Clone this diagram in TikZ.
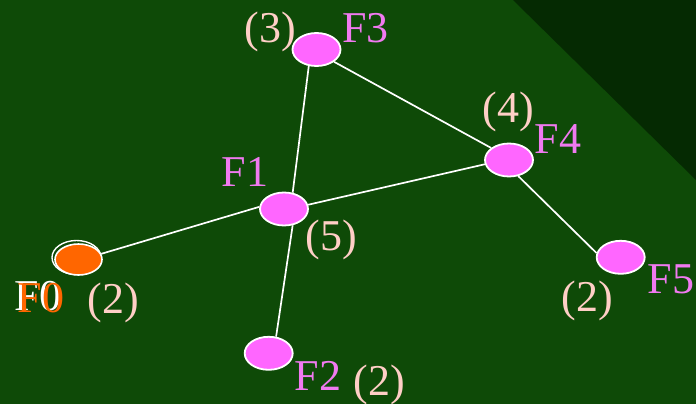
\documentclass[tikz,border=0pt]{standalone}
\usepackage{fontspec}
\setmainfont{Liberation Serif}
\usetikzlibrary{shapes.geometric}
\definecolor{bggreen}{HTML}{0E4A07}
\definecolor{bgdark}{HTML}{052A02}
\definecolor{nodepink}{HTML}{FF66FF}
\definecolor{labpink}{HTML}{F07AF0}
\definecolor{peach}{HTML}{FFCFC6}
\definecolor{orangeF}{HTML}{FF6600}
\tikzset{
  vert/.style={ellipse, draw=white, line width=1.8pt, fill=nodepink, minimum width=48pt, minimum height=33pt, inner sep=0pt},
  lab/.style={inner sep=0pt, text=labpink, font=\fontsize{44}{44}\selectfont},
  num/.style={inner sep=0pt, text=peach, font=\fontsize{44}{44}\selectfont},
  edge/.style={draw=white, line width=1.7pt}
}
\begin{document}
\begin{tikzpicture}[x=1pt,y=-1pt]
\useasboundingbox (0,0) rectangle (696,404);
\fill[bggreen] (0,0) rectangle (696,404);
\fill[bgdark] (513,0) -- (696,0) -- (696,180) -- cycle;

\node[vert] (F3) at (316.5,49.5) {};
\node[vert] (F1) at (284,209) {};
\node[vert] (F4) at (509,160) {};
\node[vert] (F2) at (268.7,353.3) {};
\node[vert] (F5) at (620.7,257.3) {};
\node[ellipse, draw=white, line width=1.4pt, minimum width=49pt, minimum height=34pt, inner sep=0pt] (F0s) at (76.5,257.5) {};
\node[ellipse, draw=white, line width=1.6pt, fill=orangeF, minimum width=47pt, minimum height=31pt, inner sep=0pt] (F0) at (78.5,259.5) {};

\draw[edge] (F3.245) -- (F1.62);
\draw[edge] (F1.298) -- (F2.66);
\draw[edge] (F0.14) -- (F1.175);
\draw[edge] (F1.10) -- (F4.190);
\draw[edge] (F3.325) -- (F4.146);
\draw[edge] (F4.300) -- (F5.170);

\node[lab] (lF3) at (365.5,28) {F3};
\node[num] (n3) at (270,32) {(3)};
\node[lab] (lF1) at (245,171.7) {F1};
\node[num] (n5) at (331,240) {(5)};
\node[lab] (lF4) at (558,139.5) {F4};
\node[num] (n4) at (508,112) {(4)};
\node[lab] (lF5) at (671,279.5) {F5};
\node[num] (n2c) at (587.5,301) {(2)};
\node[lab] (lF2) at (318,376) {F2};
\node[num] (n2b) at (379,385) {(2)};
\node[inner sep=0pt, text=white, font=\fontsize{44}{44}\selectfont] (lF0s) at (38,296) {F0};
\node[inner sep=0pt, text=orangeF, font=\fontsize{44}{44}\selectfont] (lF0) at (41,298) {F0};
\node[num] (n2a) at (113,303) {(2)};
\end{tikzpicture}
\end{document}
